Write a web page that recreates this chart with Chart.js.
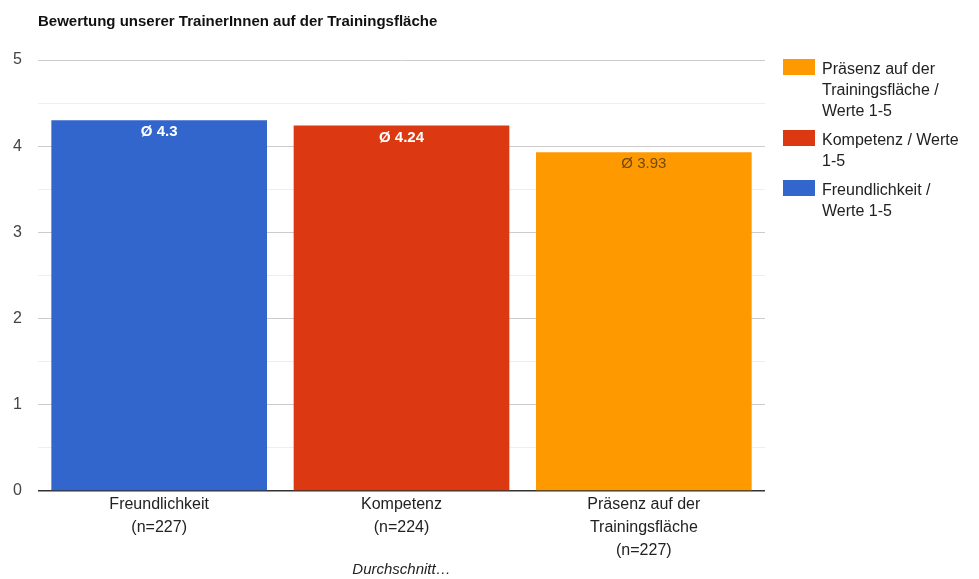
<!DOCTYPE html>
<html lang="de">
<head>
    <meta charset="UTF-8">
    <title>Bewertung unserer TrainerInnen</title>
    <script src="https://cdn.jsdelivr.net/npm/chart.js"></script>
    <style>
        body { margin: 0; background: #fff; font-family: "Liberation Sans", Arial, sans-serif; }
        .wrap { position: relative; width: 979px; height: 579px; }
        #legend { position: absolute; left: 783px; top: 58px; }
        .item { position: relative; padding-left: 39px; font-size: 16px; line-height: 21px; color: #222; margin-bottom: 8px; }
        .box { position: absolute; left: 0; top: 1px; width: 32px; height: 16px; }
    </style>
</head>
<body>
<div class="wrap">
    <canvas id="c" width="979" height="579"></canvas>
    <div id="legend"></div>
</div>
<script>
    // Daten
    const categories = [
        ["Freundlichkeit", "(n=227)"],
        ["Kompetenz", "(n=224)"],
        ["Präsenz auf der", "Trainingsfläche", "(n=227)"]
    ];
    const freundlichkeit = [4.3, null, null];
    const kompetenz = [null, 4.24, null];
    const praesenz = [null, null, 3.93];
    const seriesNames = [
        ["Freundlichkeit /", "Werte 1-5"],
        ["Kompetenz / Werte", "1-5"],
        ["Präsenz auf der", "Trainingsfläche /", "Werte 1-5"]
    ];
    const colors = ["#3366cc", "#dc3912", "#ff9900"];
    const labelColors = ["#fff", "#fff", "#6e4a14"];
    const labelWeights = ["bold", "bold", "normal"];

    const seriesData = [freundlichkeit, kompetenz, praesenz];
    const FONT = '"Liberation Sans", Arial, sans-serif';

    // Beschriftung "Ø x" oben im Balken
    const valueLabels = {
        id: 'valueLabels',
        afterDatasetsDraw(chart) {
            const ctx = chart.ctx;
            chart.data.datasets.forEach((ds, i) => {
                const meta = chart.getDatasetMeta(i);
                meta.data.forEach((bar, j) => {
                    const v = ds.data[j];
                    if (v == null) return;
                    ctx.save();
                    ctx.font = labelWeights[i] + ' 15px ' + FONT;
                    ctx.fillStyle = labelColors[i];
                    ctx.textAlign = 'center';
                    ctx.textBaseline = 'middle';
                    ctx.fillText('Ø ' + v, bar.x, bar.y + 12);
                    ctx.restore();
                });
            });
        }
    };

    new Chart(document.getElementById('c'), {
        type: 'bar',
        data: {
            labels: categories,
            datasets: seriesData.map((d, i) => ({
                label: seriesNames[i].join(' '),
                data: d,
                backgroundColor: colors[i],
                categoryPercentage: 0.89,
                barPercentage: 1
            }))
        },
        options: {
            responsive: false,
            animation: false,
            layout: { padding: { right: 214, top: 0, bottom: 0 } },
            plugins: {
                legend: { display: false },
                tooltip: { enabled: false },
                title: {
                    display: true,
                    fullSize: false,
                    align: 'start',
                    text: 'Bewertung unserer TrainerInnen auf der Trainingsfläche',
                    color: '#111',
                    font: { family: FONT, size: 15, weight: 'bold' },
                    padding: { top: 13, bottom: 29 }
                }
            },
            scales: {
                x: {
                    stacked: true,
                    afterFit(scale) { scale.height = 88; },
                    grid: { display: false, drawTicks: false },
                    border: { display: false },
                    ticks: {
                        color: '#222',
                        padding: 2,
                        maxRotation: 0,
                        autoSkip: false,
                        font: { family: FONT, size: 16, lineHeight: 1.4375 }
                    },
                    title: {
                        display: true,
                        text: 'Durchschnitt…',
                        color: '#222',
                        font: { family: FONT, size: 15, style: 'italic' },
                        padding: { top: 2, bottom: 0 }
                    }
                },
                y: {
                    stacked: true,
                    min: 0,
                    max: 5,
                    afterFit(scale) { scale.width = 38; },
                    border: { display: false },
                    grid: {
                        drawTicks: false,
                        color: c => c.tick.value === 0 ? '#333' : (c.tick.value % 1 ? '#eeeeee' : '#cccccc'),
                        lineWidth: c => c.tick.value === 0 ? 1.5 : 1
                    },
                    ticks: {
                        stepSize: 0.5,
                        padding: 16,
                        color: '#444',
                        font: { family: FONT, size: 16 },
                        callback: v => (v % 1 ? '' : v)
                    }
                }
            }
        },
        plugins: [valueLabels]
    });

    // Legende rechts (umgekehrte Reihenfolge)
    const legend = document.getElementById('legend');
    for (let i = seriesNames.length - 1; i >= 0; i--) {
        const item = document.createElement('div');
        item.className = 'item';
        const box = document.createElement('span');
        box.className = 'box';
        box.style.background = colors[i];
        item.appendChild(box);
        item.innerHTML += seriesNames[i].join('<br>');
        legend.appendChild(item);
    }
</script>
</body>
</html>
